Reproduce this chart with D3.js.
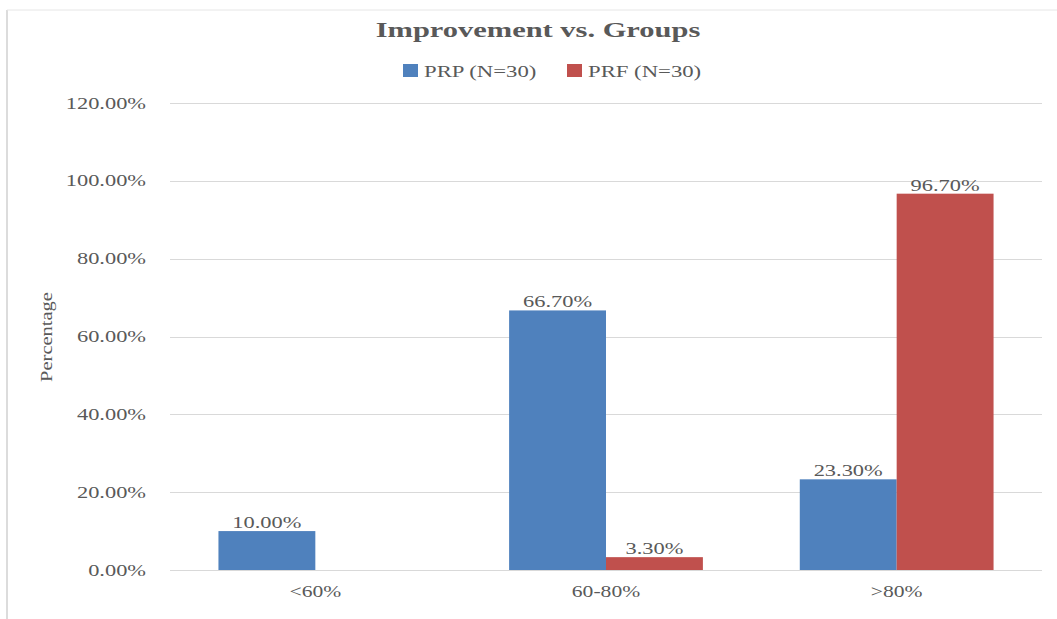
<!DOCTYPE html>
<html>
<head>
<meta charset="utf-8">
<script src="https://cdn.jsdelivr.net/npm/d3@7"></script>
<style>
  body { margin: 0; background: #fff; }
  text { font-family: "Liberation Serif", "Times New Roman", serif; fill: #595959; }
</style>
</head>
<body>
<svg id="chart" width="1057" height="619"></svg>
<script>
// chart data
var categories = ["<60%", "60-80%", ">80%"];
var seriesNames = ["PRP (N=30)", "PRF (N=30)"];
var prpValues = [10.0, 66.7, 23.3];
var prfValues = [0, 3.3, 96.7];
var yTicks = [0, 20, 40, 60, 80, 100, 120];

var colors = ["#4F81BD", "#C0504D"];

var svg = d3.select("#chart");

// the source picture is stretched sideways, so widen the text the same way
function stretch(sel, factor) {
    sel.each(function () {
        var w = this.getComputedTextLength();
        d3.select(this)
            .attr("textLength", w * factor)
            .attr("lengthAdjust", "spacingAndGlyphs");
    });
}

// frame lines like the original picture
svg.append("line").attr("x1", 7).attr("x2", 7).attr("y1", 10).attr("y2", 619)
    .attr("stroke", "#d0d0d0").attr("stroke-width", 1.5);
svg.append("line").attr("x1", 7).attr("x2", 1057).attr("y1", 10).attr("y2", 10)
    .attr("stroke", "#e6e6e6").attr("stroke-width", 1);

// note: "top" is taken by window.top, so use other names
var plotLeft = 170, plotRight = 1042, plotTop = 103, plotBottom = 570;

var x0 = d3.scaleBand()
    .domain(categories)
    .range([plotLeft, plotRight]);

var bw = x0.bandwidth();
var x1 = d3.scaleBand()
    .domain(seriesNames)
    .range([bw / 6, bw * 5 / 6]);

var y = d3.scaleLinear()
    .domain([0, 120])
    .range([plotBottom, plotTop]);

// gridlines
svg.append("g").selectAll("line")
    .data(yTicks)
    .enter().append("line")
    .attr("x1", plotLeft).attr("x2", plotRight)
    .attr("y1", function (d) { return Math.round(y(d)) + 0.5; })
    .attr("y2", function (d) { return Math.round(y(d)) + 0.5; })
    .attr("stroke", "#d9d9d9")
    .attr("stroke-width", 1);

// y axis labels
var yAxis = d3.axisLeft(y)
    .tickValues(yTicks)
    .tickSize(0)
    .tickPadding(24)
    .tickFormat(function (d) { return d.toFixed(2) + "%"; });

var yG = svg.append("g")
    .attr("transform", "translate(" + plotLeft + ",0)")
    .call(yAxis);
yG.select(".domain").remove();
yG.selectAll("text")
    .style("font-size", "16px")
    .style("font-family", "Liberation Serif, serif")
    .attr("fill", "#595959")
    .call(stretch, 1.4);

// x axis labels
var xAxis = d3.axisBottom(x0).tickSize(0).tickPadding(16);
var xG = svg.append("g")
    .attr("transform", "translate(0," + plotBottom + ")")
    .call(xAxis);
xG.select(".domain").remove();
xG.selectAll("text")
    .style("font-size", "16px")
    .style("font-family", "Liberation Serif, serif")
    .attr("fill", "#595959")
    .call(stretch, 1.35);

// bars
var rows = categories.map(function (c, i) {
    return { cat: c, values: [prpValues[i], prfValues[i]] };
});

var groups = svg.append("g").selectAll("g")
    .data(rows)
    .enter().append("g")
    .attr("transform", function (d) { return "translate(" + x0(d.cat) + ",0)"; });

groups.selectAll("rect")
    .data(function (d) {
        return d.values.map(function (v, j) { return { name: seriesNames[j], value: v, idx: j }; });
    })
    .enter().append("rect")
    .attr("x", function (d) { return x1(d.name); })
    .attr("width", x1.bandwidth())
    .attr("y", function (d) { return y(d.value); })
    .attr("height", function (d) { return plotBottom - y(d.value); })
    .attr("fill", function (d) { return colors[d.idx]; });

// data labels (skip zero values)
groups.selectAll("text.lbl")
    .data(function (d) {
        return d.values.map(function (v, j) { return { name: seriesNames[j], value: v }; })
            .filter(function (e) { return e.value > 0; });
    })
    .enter().append("text")
    .attr("class", "lbl")
    .attr("x", function (d) { return x1(d.name) + x1.bandwidth() / 2; })
    .attr("y", function (d) { return y(d.value) - 3; })
    .attr("text-anchor", "middle")
    .style("font-size", "16px")
    .text(function (d) { return d.value.toFixed(2) + "%"; })
    .call(stretch, 1.4);

// title
svg.append("text")
    .attr("x", 538).attr("y", 37)
    .attr("text-anchor", "middle")
    .style("font-size", "21px")
    .style("font-weight", "bold")
    .text("Improvement vs. Groups")
    .call(stretch, 1.45);

// legend
var legendX = [403, 567];
var legend = svg.append("g").selectAll("g")
    .data(seriesNames)
    .enter().append("g")
    .attr("transform", function (d, i) { return "translate(" + legendX[i] + ",64)"; });

legend.append("rect")
    .attr("width", 15).attr("height", 13)
    .attr("fill", function (d, i) { return colors[i]; });

legend.append("text")
    .attr("x", 21).attr("y", 13)
    .style("font-size", "16px")
    .text(function (d) { return d; })
    .call(stretch, 1.42);

// y axis title
svg.append("text")
    .attr("transform", "translate(52,337) rotate(-90)")
    .attr("text-anchor", "middle")
    .style("font-size", "16px")
    .text("Percentage")
    .call(stretch, 1.28);
</script>
</body>
</html>
